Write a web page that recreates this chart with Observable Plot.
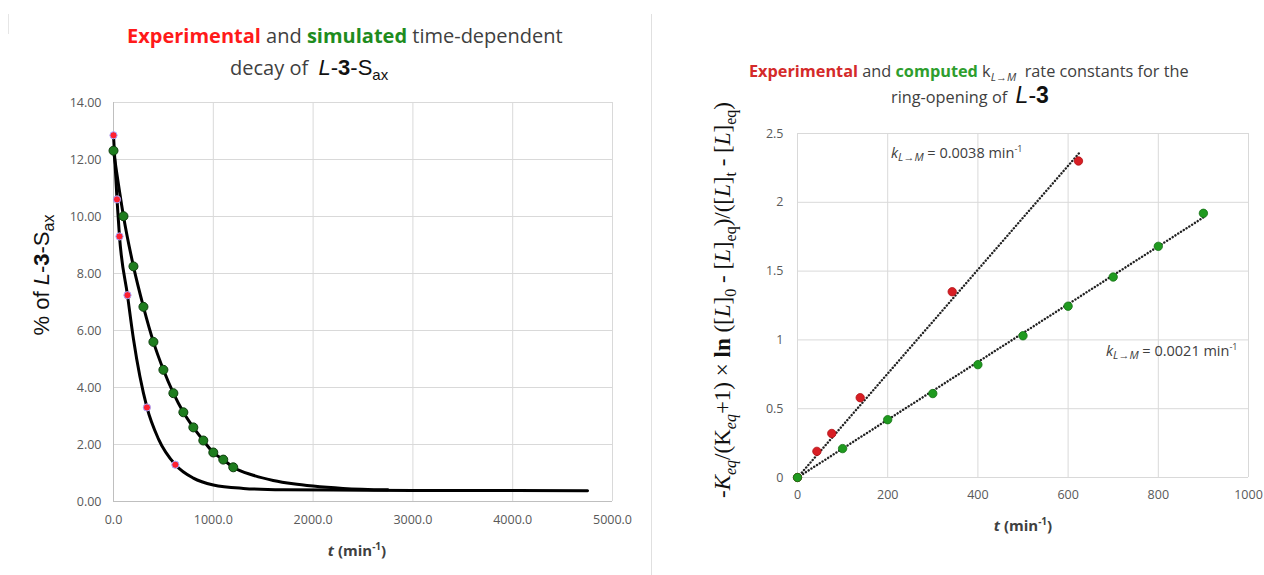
<!DOCTYPE html>
<html>
<head>
<meta charset="utf-8">
<script src="https://cdn.jsdelivr.net/npm/d3@7"></script>
<script src="https://cdn.jsdelivr.net/npm/@observablehq/plot@0.6"></script>
<style>
  html, body { margin: 0; padding: 0; background: #fff; }
  #wrap { position: relative; width: 1264px; height: 575px; overflow: hidden; background: #fff; font-family: "Open Sans", sans-serif; }
  .abs { position: absolute; white-space: nowrap; }
  .plot { position: absolute; top: 0; }
  .red1 { color: #ff1a1a; font-weight: bold; }
  .grn1 { color: #1e8c1e; font-weight: bold; }
  .red2 { color: #d42a2a; font-weight: bold; }
  .grn2 { color: #2e9e2e; font-weight: bold; }
  .ar { font-family: "Liberation Sans", Arial, sans-serif; color: #111; }
  sub, sup { line-height: 0; }
</style>
</head>
<body>
<div id="wrap">
  <div class="abs" style="left:8px;top:14px;width:1px;height:20px;background:#e6e6e6"></div>
  <div class="abs" style="left:651px;top:14px;width:1px;height:561px;background:#e0e0e0"></div>
</div>
<script>
// ---------- Left chart data: % of L-3-Sax vs t ----------
const expT   = [0, 35, 60, 140, 335, 620];
const expPct = [12.85, 10.6, 9.3, 7.24, 3.3, 1.29];
const simT   = [0, 100, 200, 300, 400, 500, 600, 700, 800, 900, 1000, 1100, 1200];
const simPct = [12.31, 10.01, 8.25, 6.83, 5.6, 4.62, 3.8, 3.13, 2.6, 2.14, 1.72, 1.47, 1.2];
// fitted curves
const expFitT   = [0, 35, 60, 140, 200, 335, 450, 620, 800, 1000, 1300, 1700, 2200, 3000, 4000, 4750];
const expFitPct = [12.85, 10.6, 9.3, 7.24, 5.7, 3.3, 2.2, 1.29, 0.82, 0.58, 0.46, 0.41, 0.40, 0.39, 0.39, 0.38];
const simFitT   = [0, 100, 200, 300, 400, 500, 600, 700, 800, 900, 1000, 1100, 1200, 1400, 1600, 1800, 2000, 2300, 2750];
const simFitPct = [12.31, 10.01, 8.25, 6.83, 5.6, 4.62, 3.8, 3.13, 2.6, 2.14, 1.72, 1.47, 1.2, 0.92, 0.74, 0.62, 0.54, 0.46, 0.41];
const leftXTicks = [0, 1000, 2000, 3000, 4000, 5000];
const leftYTicks = [0, 2, 4, 6, 8, 10, 12, 14];

// ---------- Right chart data: linearised rate plot ----------
const rExpT = [0, 43, 76, 139, 343, 623];
const rExpY = [0, 0.19, 0.32, 0.58, 1.35, 2.30];
const rSimT = [0, 100, 200, 300, 400, 500, 600, 700, 800, 900];
const rSimY = [0, 0.21, 0.42, 0.61, 0.82, 1.03, 1.245, 1.457, 1.68, 1.92];
const trendExpT = [0, 625];
const trendExpY = [0, 2.36];
const trendSimT = [0, 900];
const trendSimY = [0, 1.89];
const rightXTicks = [0, 200, 400, 600, 800, 1000];
const rightYTicks = [0, 0.5, 1, 1.5, 2, 2.5];

const zip = (xs, ys) => xs.map((x, i) => ({x, y: ys[i]}));
const plain = d => String(d);

const wrap = document.getElementById("wrap");
const styleBase = {fontFamily: "'Open Sans', sans-serif", fontSize: "12.5px", color: "#595959", background: "transparent", overflow: "visible"};

const left = Plot.plot({
  width: 640, height: 575,
  marginLeft: 113, marginRight: 28, marginTop: 102, marginBottom: 74,
  style: styleBase,
  x: {domain: [0, 5000]},
  y: {domain: [0, 14]},
  marks: [
    Plot.gridX(leftXTicks, {stroke: "#d9d9d9", strokeOpacity: 1}),
    Plot.gridY(leftYTicks, {stroke: "#d9d9d9", strokeOpacity: 1}),
    Plot.ruleX([0], {stroke: "#bfbfbf"}),
    Plot.ruleY([0], {stroke: "#bfbfbf"}),
    Plot.axisX(leftXTicks, {tickSize: 0, tickPadding: 14, tickFormat: d3.format(".1f"), label: null}),
    Plot.axisY(leftYTicks, {tickSize: 0, tickPadding: 12, tickFormat: d3.format(".2f"), label: null}),
    Plot.line(zip(expFitT, expFitPct), {x: "x", y: "y", stroke: "#000", strokeWidth: 3, curve: "monotone-x"}),
    Plot.line(zip(simFitT, simFitPct), {x: "x", y: "y", stroke: "#000", strokeWidth: 3, curve: "monotone-x"}),
    Plot.dot(zip(simT, simPct), {x: "x", y: "y", r: 4.5, fill: "#1e7d1e", stroke: "#0b3d0b", strokeWidth: 1}),
    Plot.dot(zip(expT, expPct), {x: "x", y: "y", r: 3.6, fill: "#ff2030", stroke: "#a8a8ff", strokeWidth: 1})
  ]
});
left.classList.add("plot");
left.style.left = "0px";
wrap.appendChild(left);

const right = Plot.plot({
  width: 612, height: 575,
  marginLeft: 145, marginRight: 16, marginTop: 133, marginBottom: 98,
  style: styleBase,
  x: {domain: [0, 1000]},
  y: {domain: [0, 2.5]},
  marks: [
    Plot.gridX(rightXTicks, {stroke: "#d9d9d9", strokeOpacity: 1}),
    Plot.gridY(rightYTicks, {stroke: "#d9d9d9", strokeOpacity: 1}),
    Plot.axisX(rightXTicks, {tickSize: 0, tickPadding: 13, tickFormat: plain, label: null}),
    Plot.axisY(rightYTicks, {tickSize: 0, tickPadding: 14, tickFormat: plain, label: null}),
    Plot.line(zip(trendExpT, trendExpY), {x: "x", y: "y", stroke: "#222", strokeWidth: 2.4, strokeDasharray: "0.1,3.2", strokeLinecap: "round"}),
    Plot.line(zip(trendSimT, trendSimY), {x: "x", y: "y", stroke: "#222", strokeWidth: 2.4, strokeDasharray: "0.1,3.2", strokeLinecap: "round"}),
    Plot.dot(zip(rExpT, rExpY), {x: "x", y: "y", r: 4.2, fill: "#d81e24", stroke: "#b01015", strokeWidth: 0.8}),
    Plot.dot(zip(rSimT, rSimY), {x: "x", y: "y", r: 4.2, fill: "#1f9a1f", stroke: "#137013", strokeWidth: 0.8})
  ]
});
right.classList.add("plot");
right.style.left = "652px";
wrap.appendChild(right);

function addText(html, css) {
  const d = document.createElement("div");
  d.className = "abs";
  d.innerHTML = html;
  Object.assign(d.style, css);
  wrap.appendChild(d);
  return d;
}

// Left title
addText('<span class="red1">Experimental</span> and <span class="grn1">simulated</span> time-dependent',
  {left: "127px", top: "22px", fontSize: "20px", color: "#404040"});
addText('decay of &nbsp;<span class="ar" style="font-size:22px"><i>L</i>-<b>3</b>-S<sub style="font-size:15px">ax</sub></span>',
  {left: "230px", top: "54px", fontSize: "20px", color: "#404040"});

// Left axis titles
addText('<b><i>t</i> (min<sup style="font-size:10px">-1</sup>)</b>',
  {left: "357px", top: "550px", transform: "translate(-50%,-50%)", fontSize: "15px", color: "#404040"});
addText('% of <i>L</i>-<b>3</b>-S<sub style="font-size:16px">ax</sub>',
  {left: "42px", top: "275px", transform: "translate(-50%,-50%) rotate(-90deg)", fontSize: "22px", color: "#111", fontFamily: "'Liberation Sans', Arial, sans-serif"});

// Right title
addText('<span class="red2">Experimental</span> and <span class="grn2">computed</span> k<sub style="font-size:11px"><i>L</i>→<i>M</i></sub>&nbsp; rate constants for the',
  {left: "749px", top: "60px", fontSize: "16.3px", color: "#404040"});
addText('ring-opening of &nbsp;<span class="ar" style="font-size:23px"><i>L</i>-<b>3</b></span>',
  {left: "891px", top: "82px", fontSize: "16.3px", color: "#404040"});

// Right annotations
addText('<i>k</i><sub style="font-size:11px"><i>L</i>→<i>M</i></sub> = 0.0038 min<sup style="font-size:9px">-1</sup>',
  {left: "891px", top: "152px", transform: "translateY(-50%)", fontSize: "14.5px", color: "#404040"});
addText('<i>k</i><sub style="font-size:11px"><i>L</i>→<i>M</i></sub> = 0.0021 min<sup style="font-size:9px">-1</sup>',
  {left: "1106px", top: "350px", transform: "translateY(-50%)", fontSize: "14.5px", color: "#404040"});

// Right axis titles
addText('<b><i>t</i> (min<sup style="font-size:10px">-1</sup>)</b>',
  {left: "1023px", top: "525px", transform: "translate(-50%,-50%)", fontSize: "15px", color: "#404040"});
addText('-<i>K<sub style="font-size:16px">eq</sub></i>/(K<sub style="font-size:16px"><i>eq</i></sub>+1) × <b>ln</b> ([<i>L</i>]<sub style="font-size:16px">0</sub> - [<i>L</i>]<sub style="font-size:16px">eq</sub>)/([<i>L</i>]<sub style="font-size:16px">t</sub> - [<i>L</i>]<sub style="font-size:16px">eq</sub>)',
  {left: "723px", top: "300px", transform: "translate(-50%,-50%) rotate(-90deg)", fontSize: "23px", color: "#111", fontFamily: "'Liberation Serif', 'DejaVu Serif', serif"});
</script>
</body>
</html>
